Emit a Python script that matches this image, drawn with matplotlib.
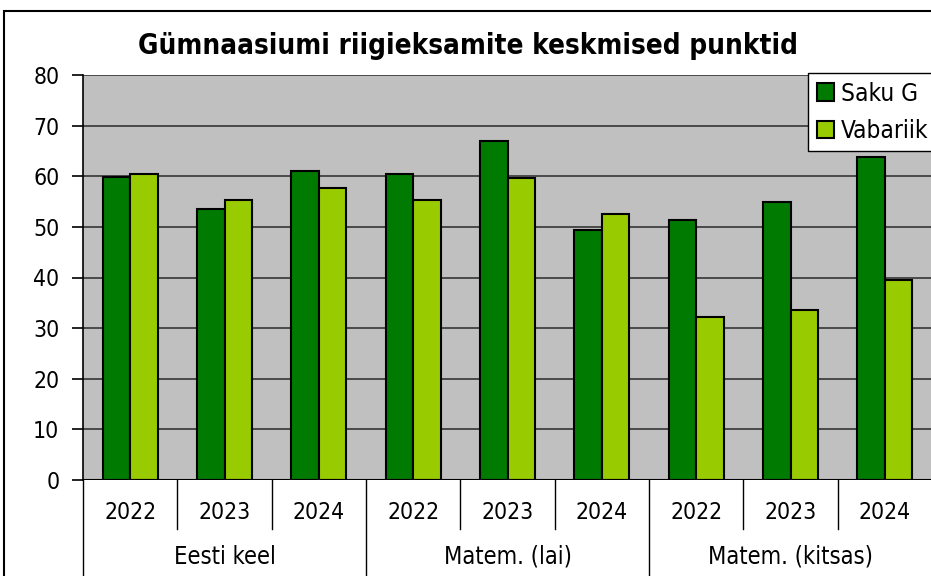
import matplotlib.pyplot as plt
import numpy as np
from matplotlib.patches import Rectangle

plt.rcParams['font.family'] = ['DejaVu Sans']
plt.rcParams['font.stretch'] = 'condensed'

# data
groups = ["Eesti keel", "Matem. (lai)", "Matem. (kitsas)"]
years = ["2022", "2023", "2024"]
saku = [59.8, 53.5, 61.0, 60.4, 66.9, 49.3, 51.3, 54.9, 63.9]
vabariik = [60.5, 55.4, 57.6, 55.4, 59.6, 52.6, 32.1, 33.5, 39.6]

fig = plt.figure(figsize=(9.31, 5.76), dpi=100)
ax = fig.add_axes([83 / 931, 1 - 480 / 576, 849 / 931, 405 / 576])
ax.set_facecolor("#C0C0C0")

x = np.arange(len(saku))
w = 0.29
ax.bar(x - w / 2, saku, w, color="#007A00", edgecolor="black", linewidth=1.5, label="Saku G", zorder=3)
ax.bar(x + w / 2, vabariik, w, color="#99CC00", edgecolor="black", linewidth=1.5, label="Vabariik", zorder=3)

ax.set_xlim(-0.5, len(saku) - 0.5)
ax.set_ylim(0, 80)
ax.set_yticks(range(0, 81, 10))
ax.tick_params(axis="y", labelsize=16.5, length=8, width=1.2, pad=9)
ax.set_xticks([])
ax.grid(axis="y", color="#404040", linewidth=1.3, zorder=1)
for s in ["top", "right", "bottom"]:
    ax.spines[s].set_visible(False)
ax.spines["left"].set_linewidth(1.2)
ax.axhline(0, color="black", linewidth=1.5, zorder=4)

# multi-level x axis labels
trans = ax.get_xaxis_transform()
for i in range(len(saku)):
    ax.text(i, -0.08, years[i % 3], transform=trans, ha="center", va="center", fontsize=16.5)
for i in range(len(saku) + 1):
    low = -0.3 if i % 3 == 0 else -0.12
    ax.plot([i - 0.5, i - 0.5], [0, low], transform=trans, color="black", linewidth=1, clip_on=False)
for g, name in enumerate(groups):
    ax.text(3 * g + 1, -0.19, name, transform=trans, ha="center", va="center", fontsize=17)

fig.text(468 / 931, 1 - 46 / 576, "Gümnaasiumi riigieksamite keskmised punktid",
         ha="center", va="center", fontsize=20, fontweight="bold")

leg = ax.legend(loc="upper left", bbox_to_anchor=(808 / 931, 1 - 73 / 576),
                bbox_transform=fig.transFigure, fontsize=17.5, frameon=True, fancybox=False,
                framealpha=1, edgecolor="black", borderaxespad=0, handlelength=0.7,
                handleheight=0.7, handletextpad=0.3, borderpad=0.35, labelspacing=0.55)
leg.get_frame().set_linewidth(1)

# outer chart border
fig.patches.append(Rectangle((4 / 931, -0.1), 1.2, 1.1 - 11 / 576, transform=fig.transFigure,
                             fill=False, edgecolor="black", linewidth=1.5))

fig.savefig("out.png", dpi=100)
